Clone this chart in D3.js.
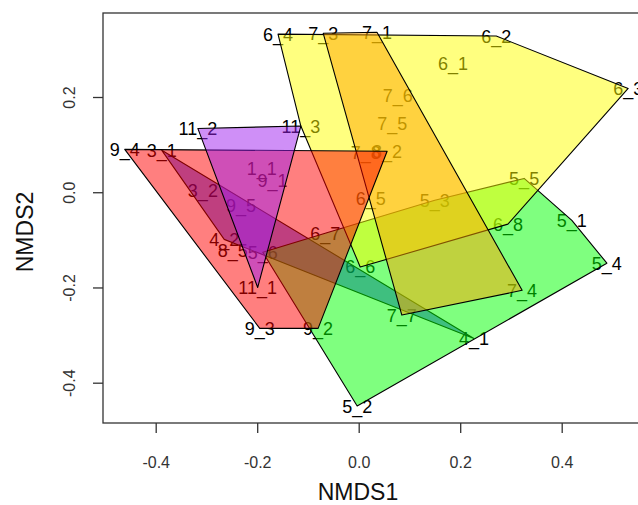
<!DOCTYPE html>
<html>
<head>
<meta charset="utf-8">
<script src="https://cdn.jsdelivr.net/npm/d3@7"></script>
<style>
    body { margin: 0; background: #fff; }
    svg { display: block; }
    .lbl { font-family: "Liberation Sans", Arial, sans-serif; font-size: 18px; fill: #000; }
    .tick text { font-family: "Liberation Sans", Arial, sans-serif; font-size: 16px; fill: #333; }
    .title { font-family: "Liberation Sans", Arial, sans-serif; font-size: 23px; fill: #111; }
</style>
</head>
<body>
<svg id="chart"></svg>
<script>
    // ******************** Data ************************
    var siteLabels = ["9_4", "3_1", "11_2", "11_3", "6_4", "7_3", "7_1", "6_2", "6_1", "6_3",
        "7_6", "7_5", "7_8", "8_2", "1_1", "9_1", "3_2", "9_5", "6_5", "5_5", "5_3", "6_8",
        "5_1", "4_2", "8_5", "5_6", "6_7", "6_6", "5_4", "7_4", "11_1", "7_7", "9_3", "9_2",
        "4_1", "5_2"];
    var nmds1 = [-0.461, -0.388, -0.317, -0.114, -0.159, -0.070, 0.036, 0.271, 0.186, 0.531,
        0.077, 0.066, 0.014, 0.056, -0.191, -0.170, -0.307, -0.232, 0.024, 0.326, 0.150, 0.294,
        0.420, -0.265, -0.248, -0.189, -0.066, 0.003, 0.489, 0.322, -0.199, 0.085, -0.195, -0.080,
        0.227, -0.003];
    var nmds2 = [0.090, 0.088, 0.134, 0.139, 0.332, 0.334, 0.336, 0.328, 0.271, 0.218,
        0.204, 0.145, 0.084, 0.086, 0.050, 0.025, 0.004, -0.027, -0.013, 0.029, -0.017, -0.067,
        -0.059, -0.099, -0.122, -0.126, -0.086, -0.157, -0.149, -0.206, -0.200, -0.258, -0.286, -0.286,
        -0.307, -0.449];

    // hull membership (drawn in this order)
    var hullBlue = ["3_1", "3_2", "4_2", "4_1"];
    var hullGreen = ["5_6", "6_7", "5_3", "5_5", "5_1", "5_4", "5_2"];
    var hullYellow = ["6_4", "6_2", "6_1", "6_3", "6_8", "6_6", "6_5", "11_3"];
    var hullOrange = ["7_3", "7_1", "7_6", "7_5", "7_8", "7_4", "7_7"];
    var hullRed = ["9_4", "8_2", "9_1", "9_5", "9_2", "9_3"];
    var hullPurple = ["11_2", "11_3", "11_1", "1_1"];

    var xTicks = [-0.4, -0.2, 0.0, 0.2, 0.4];
    var yTicks = [-0.4, -0.2, 0.0, 0.2];

    // ******************** Layout ************************
    var width = 638, height = 505;
    var box = { left: 103, top: 13, right: 700, bottom: 423 };

    var x = d3.scaleLinear().domain([-0.4, 0.4]).range([155.7, 561.7]);
    var y = d3.scaleLinear().domain([-0.4, 0.2]).range([382.7, 97]);

    var svg = d3.select("#chart")
        .attr("width", width)
        .attr("height", height);

    var points = siteLabels.map(function (d, i) {
        return { label: d, x: nmds1[i], y: nmds2[i] };
    });
    var byLabel = {};
    points.forEach(function (p) { byLabel[p.label] = p; });

    // labels go underneath the hulls, like ordiplot text + ordihull
    svg.append("g")
        .selectAll("text")
        .data(points)
        .enter()
        .append("text")
        .attr("class", "lbl")
        .attr("x", function (d) { return x(d.x); })
        .attr("y", function (d) { return y(d.y); })
        .attr("dy", "0.36em")
        .attr("text-anchor", "middle")
        .text(function (d) { return d.label; });

    var hulls = [
        { members: hullBlue, col: "#0000ff" },
        { members: hullGreen, col: "#00ff00" },
        { members: hullYellow, col: "#ffff00" },
        { members: hullOrange, col: "#ffa500" },
        { members: hullRed, col: "#ff0000" },
        { members: hullPurple, col: "#a020f0" }
    ];

    var gHull = svg.append("g");
    hulls.forEach(function (h) {
        var pts = h.members.map(function (l) {
            return [x(byLabel[l].x), y(byLabel[l].y)];
        });
        var hull = d3.polygonHull(pts);
        gHull.append("path")
            .attr("d", "M" + hull.join("L") + "Z")
            .attr("fill", h.col)
            .attr("fill-opacity", 0.5)
            .attr("stroke", "#000")
            .attr("stroke-width", 1.1)
            .attr("stroke-linejoin", "round");
    });

    // plot box
    svg.append("rect")
        .attr("x", box.left)
        .attr("y", box.top)
        .attr("width", box.right - box.left)
        .attr("height", box.bottom - box.top)
        .attr("fill", "none")
        .attr("stroke", "#333")
        .attr("stroke-width", 1.3);

    // axes
    var xAxis = svg.append("g")
        .attr("transform", "translate(0," + box.bottom + ")")
        .call(d3.axisBottom(x).tickValues(xTicks).tickSize(10)
            .tickFormat(function (d) { return d.toFixed(1); }));
    xAxis.select(".domain").remove();
    xAxis.selectAll(".tick line").attr("stroke", "#333").attr("stroke-width", 1.3);
    xAxis.selectAll(".tick text").attr("y", 45).attr("dy", 0);

    var yAxis = svg.append("g")
        .attr("transform", "translate(" + box.left + ",0)")
        .call(d3.axisLeft(y).tickValues(yTicks).tickSize(10)
            .tickFormat(function (d) { return d.toFixed(1); }));
    yAxis.select(".domain").remove();
    yAxis.selectAll(".tick line").attr("stroke", "#333").attr("stroke-width", 1.3);
    yAxis.selectAll(".tick text")
        .attr("transform", "rotate(-90)")
        .attr("x", 0)
        .attr("y", -28)
        .attr("dy", 0)
        .attr("text-anchor", "middle");

    // axis titles
    svg.append("text")
        .attr("class", "title")
        .attr("x", 358)
        .attr("y", 500)
        .attr("text-anchor", "middle")
        .text("NMDS1");

    svg.append("text")
        .attr("class", "title")
        .attr("transform", "translate(33,232) rotate(-90)")
        .attr("text-anchor", "middle")
        .text("NMDS2");
</script>
</body>
</html>
